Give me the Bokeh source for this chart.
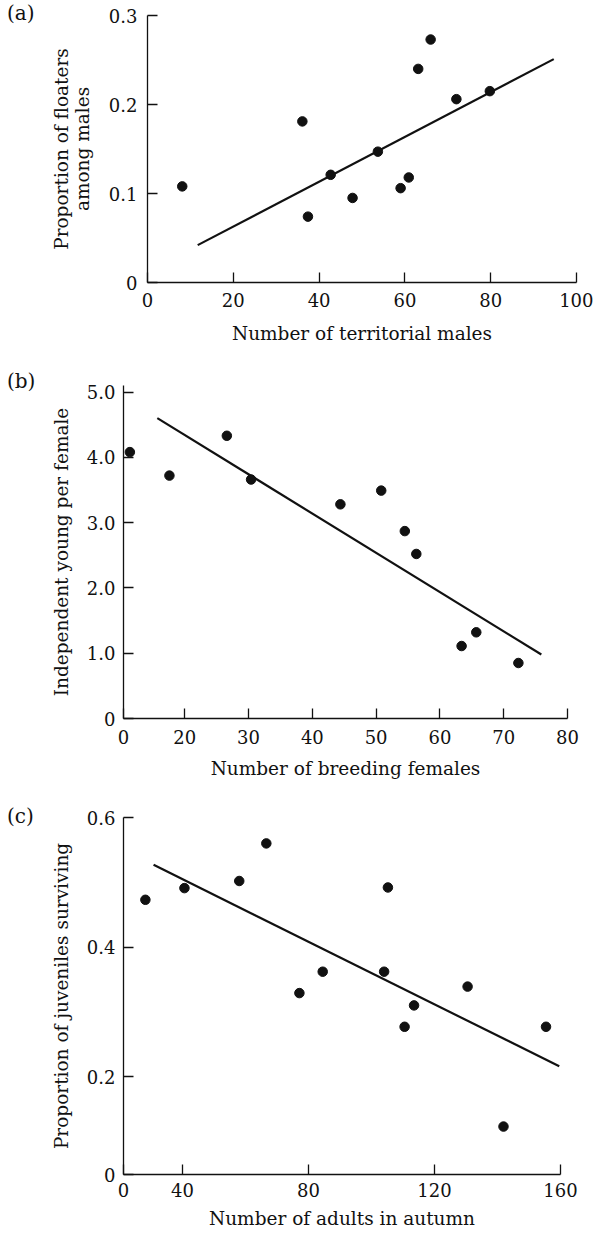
from bokeh.plotting import figure
from bokeh.layouts import row
from bokeh.models import FixedTicker, Range1d, Div
from bokeh.embed import file_html
from bokeh.resources import INLINE

# ---------------- data ----------------
# (a) floaters vs territorial males
a_territorial_males = [8.1, 36.1, 37.4, 42.7, 47.8, 53.7, 59.0, 60.9, 63.1, 66.0, 72.0, 79.8]
a_floater_proportion = [0.108, 0.181, 0.074, 0.121, 0.095, 0.147, 0.106, 0.118, 0.240, 0.273, 0.206, 0.215]
a_fit_x = [11.7, 94.7]
a_fit_y = [0.042, 0.251]
a_xticks = [0, 20, 40, 60, 80, 100]
a_yticks = [0, 0.1, 0.2, 0.3]
a_ytick_labels = ["0", "0.1", "0.2", "0.3"]

# (b) independent young vs breeding females
b_breeding_females = [11.4, 17.6, 26.6, 30.4, 44.4, 50.8, 54.5, 56.3, 63.4, 65.7, 72.3]
b_young_per_female = [4.08, 3.72, 4.33, 3.66, 3.28, 3.49, 2.87, 2.52, 1.11, 1.32, 0.85]
b_fit_x = [15.7, 75.9]
b_fit_y = [4.60, 0.98]
b_x_origin = 10.4          # broken axis: left end is labelled 0
b_xticks = [b_x_origin, 20, 30, 40, 50, 60, 70, 80]
b_xtick_labels = ["0", "20", "30", "40", "50", "60", "70", "80"]
b_yticks = [0, 1, 2, 3, 4, 5]
b_ytick_labels = ["0", "1.0", "2.0", "3.0", "4.0", "5.0"]

# (c) juvenile survival vs adults in autumn
c_adults_autumn = [28.2, 40.6, 58.0, 66.6, 77.1, 84.5, 104.0, 105.2, 110.5, 113.5, 130.5, 141.9, 155.4]
c_juvenile_survival = [0.473, 0.491, 0.502, 0.560, 0.329, 0.362, 0.362, 0.492, 0.277, 0.310, 0.339, 0.123, 0.277]
c_fit_x = [30.8, 159.6]
c_fit_y = [0.527, 0.216]
c_x_origin = 21.25         # broken axis: left end is labelled 0
c_y_origin = 0.049         # broken axis: bottom end is labelled 0
c_xticks = [c_x_origin, 40, 80, 120, 160]
c_xtick_labels = ["0", "40", "80", "120", "160"]
c_yticks = [c_y_origin, 0.2, 0.4, 0.6]
c_ytick_labels = ["0", "0.2", "0.4", "0.6"]

FONT = "DejaVu Serif"
INK = "#111111"
TAG_W = 40


def make_panel(x, y, fx, fy, xr, yr, xticks, xlabels, yticks, ylabels,
               xlabel, ylabel, tag, width, height, borders, x_so, y_so, tag_top):
    bl, br, bt, bb = borders
    p = figure(width=width, height=height, x_range=Range1d(*xr), y_range=Range1d(*yr),
               output_backend="svg", toolbar_location=None,
               min_border_left=bl, min_border_right=br,
               min_border_top=bt, min_border_bottom=bb)
    p.outline_line_color = None
    p.grid.visible = False
    p.background_fill_color = "white"
    p.border_fill_color = "white"

    p.line(fx, fy, line_width=2.2, color=INK)
    p.scatter(x, y, size=9.5, color=INK)

    for ax, ticks, labels in ((p.xaxis[0], xticks, xlabels), (p.yaxis[0], yticks, ylabels)):
        ax.ticker = FixedTicker(ticks=ticks)
        ax.major_label_overrides = {t: l for t, l in zip(ticks, labels)}
        ax.minor_tick_line_color = None
        ax.major_tick_in = 10
        ax.major_tick_out = 0
        ax.axis_line_width = 1.3
        ax.major_tick_line_width = 1.3
        ax.axis_line_color = INK
        ax.major_tick_line_color = INK
        ax.major_label_text_font = FONT
        ax.major_label_text_font_size = "18px"
        ax.major_label_text_color = INK
        ax.axis_label_text_font = FONT
        ax.axis_label_text_font_size = "18.5px"
        ax.axis_label_text_font_style = "normal"
        ax.axis_label_text_color = INK
        ax.axis_label_text_line_height = 1.0

    p.xaxis.axis_label = xlabel
    p.yaxis.axis_label = ylabel
    p.xaxis.major_label_standoff = x_so[0]
    p.xaxis.axis_label_standoff = x_so[1]
    p.yaxis.major_label_standoff = y_so[0]
    p.yaxis.axis_label_standoff = y_so[1]

    tag_div = Div(
        text=(f'<div style="margin-left:7px; margin-top:{tag_top}px; '
              f'font-family:\'{FONT}\'; font-size:20px; line-height:24px; color:{INK};">{tag}</div>'),
        width=TAG_W, height=height, margin=0)
    return row(tag_div, p, spacing=0, margin=0)


FIG_W = 593 - TAG_W

ra = make_panel(a_territorial_males, a_floater_proportion, a_fit_x, a_fit_y,
                (0, 100), (0, 0.3), a_xticks, [str(t) for t in a_xticks],
                a_yticks, a_ytick_labels,
                "Number of territorial males", "Proportion of floaters\namong males", "(a)",
                FIG_W, 368, (107, 17, 15, 86), (10, 13), (10, 13), 1)

rb = make_panel(b_breeding_females, b_young_per_female, b_fit_x, b_fit_y,
                (b_x_origin, 80), (0, 5.1), b_xticks, b_xtick_labels,
                b_yticks, b_ytick_labels,
                "Number of breeding females", "Independent young per female", "(b)",
                FIG_W, 432, (83, 26, 17, 82), (11, 11), (8, 12), 1)

rc = make_panel(c_adults_autumn, c_juvenile_survival, c_fit_x, c_fit_y,
                (c_x_origin, 160), (c_y_origin, 0.6), c_xticks, c_xtick_labels,
                c_yticks, c_ytick_labels,
                "Number of adults in autumn", "Proportion of juveniles surviving", "(c)",
                FIG_W, 433, (83, 33, 17, 59), (8, 8), (8, 12), 4)

open("out.html", "w").write(file_html([ra, rb, rc], INLINE))
